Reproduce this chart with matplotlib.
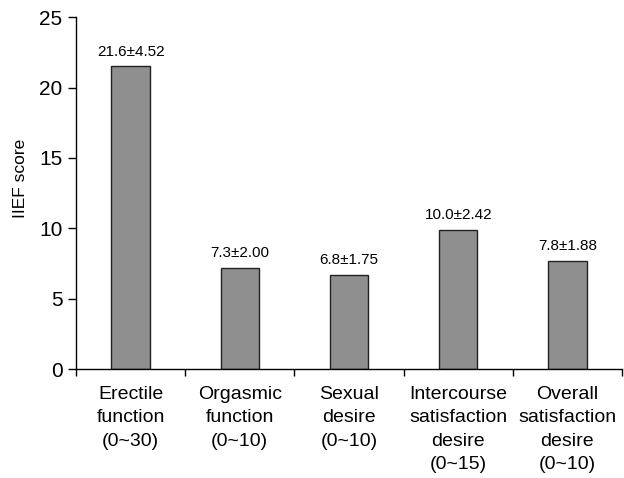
import matplotlib.pyplot as plt
import numpy as np

plt.rcParams['font.family'] = ['Liberation Sans', 'DejaVu Sans']

categories = ['Erectile\nfunction\n(0~30)', 'Orgasmic\nfunction\n(0~10)', 'Sexual\ndesire\n(0~10)',
              'Intercourse\nsatisfaction\ndesire\n(0~15)', 'Overall\nsatisfaction\ndesire\n(0~10)']
heights = [21.5, 7.2, 6.7, 9.9, 7.7]
labels = ['21.6\u00b14.52', '7.3\u00b12.00', '6.8\u00b11.75', '10.0\u00b12.42', '7.8\u00b11.88']

fig = plt.figure(figsize=(6.24, 4.78), dpi=100)
ax = fig.add_axes([0.1218, 0.228, 0.875, 0.736])

x = np.arange(len(categories))
ax.bar(x, heights, width=0.35, color='#8f8f8f', edgecolor='#222222', linewidth=1.0)
for xi, h, lab in zip(x, heights, labels):
    ax.text(xi, h + 0.75, lab, ha='center', va='baseline', fontsize=11)

ax.set_xlim(-0.5, len(categories) - 0.5)
ax.set_ylim(0, 25)
ax.set_yticks([0, 5, 10, 15, 20, 25])
ax.set_xticks(x)
ax.set_xticklabels(categories, fontsize=14, va='top', linespacing=1.5)
ax.tick_params(axis='x', which='major', length=0, pad=12)
ax.set_xticks(np.arange(-0.5, len(categories)), minor=True)
ax.tick_params(axis='x', which='minor', length=5, width=1)
ax.tick_params(axis='y', length=5.8, width=1, labelsize=15, pad=4)
ax.set_ylabel('IIEF score', fontsize=12.5)
ax.yaxis.set_label_coords(-0.088, 0.543)

for s in ['top', 'right']:
    ax.spines[s].set_visible(False)
for s in ['left', 'bottom']:
    ax.spines[s].set_linewidth(1)

fig.savefig('out.png', dpi=100)
